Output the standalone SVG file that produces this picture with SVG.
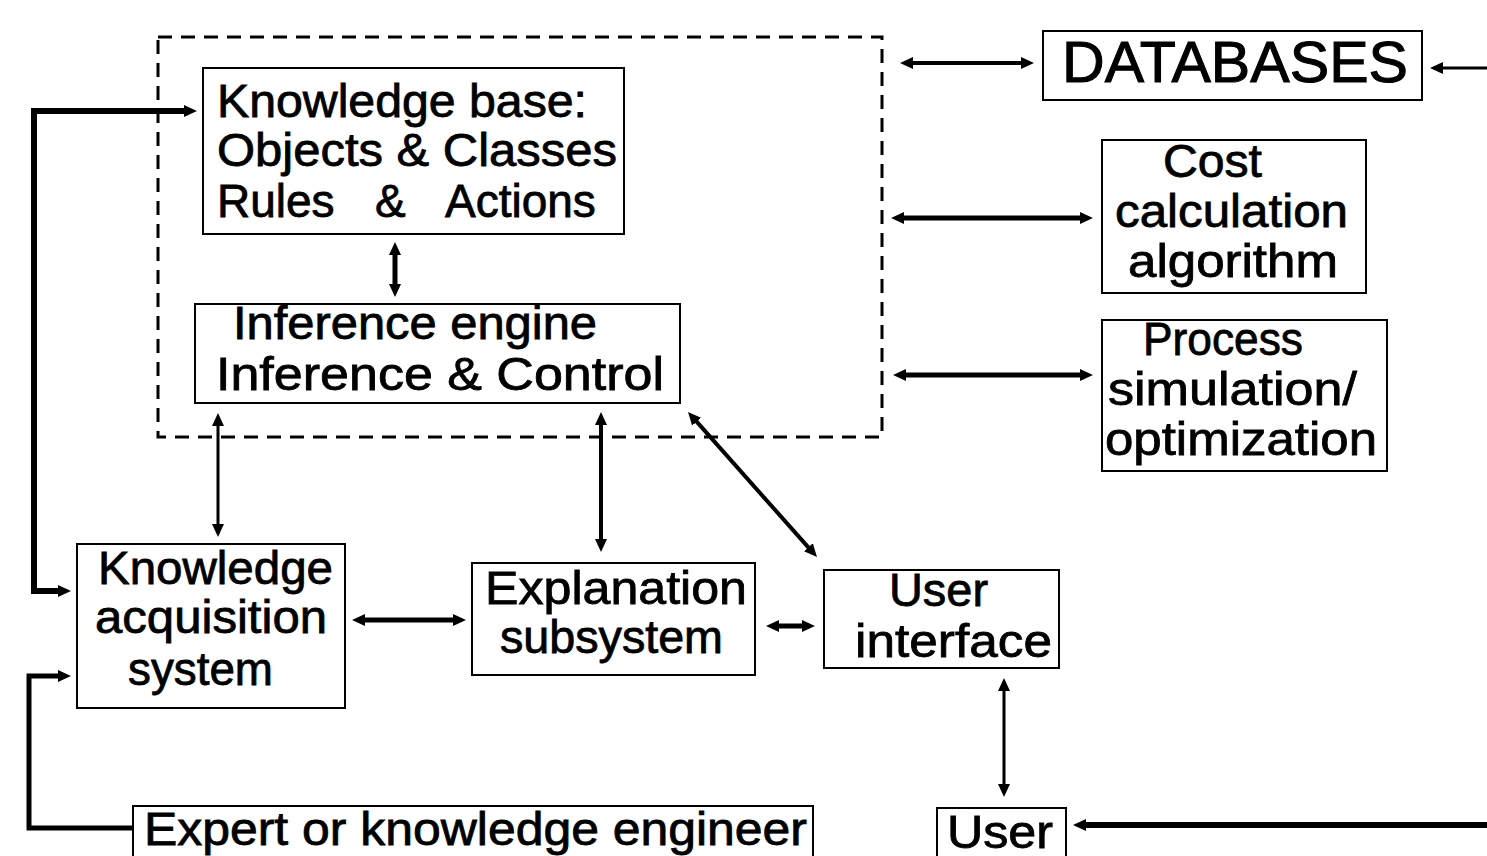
<svg xmlns="http://www.w3.org/2000/svg" width="1487" height="856" viewBox="0 0 1487 856">
  <defs>
    <!-- shared arrowhead: tip sits 9px beyond the line end -->
    <marker id="head" markerUnits="userSpaceOnUse" markerWidth="15" markerHeight="14" refX="4" refY="7" orient="auto-start-reverse">
      <path d="M0,1 L13,7 L0,13 Z" fill="#000"/>
    </marker>
    <style>
      .box { fill: none; stroke: #000; stroke-width: 2; }
      .frame { fill: none; stroke: #000; stroke-width: 3; stroke-dasharray: 14 9; }
      .lbl { font-family: "Liberation Sans", Arial, Helvetica, sans-serif; font-size: 46px; fill: #000; stroke: #000; stroke-width: 0.8; }
      .big { font-size: 57px; stroke-width: 1; }
      .c { fill: none; stroke: #000; stroke-linecap: butt; stroke-linejoin: miter; }
      .two { marker-start: url(#head); marker-end: url(#head); }
      .one { marker-end: url(#head); }
    </style>
  </defs>
  <rect width="1487" height="856" fill="#fff"/>

  <!-- expert-system boundary -->
  <rect class="frame" x="158" y="37" width="724" height="400"/>

  <g id="connectors">
    <line class="c two" x1="395" y1="251" x2="395" y2="288" stroke-width="5"/>
    <path class="c two" d="M62,591 H34 V111 H188" stroke-width="6"/>
    <path class="c one" d="M132,828 H29 V676 H62" stroke-width="5"/>
    <line class="c two" x1="218" y1="422" x2="218" y2="528" stroke-width="3"/>
    <line class="c two" x1="601" y1="421" x2="601" y2="543" stroke-width="4"/>
    <line class="c two" x1="694" y1="418.7" x2="811" y2="550.3" stroke-width="4"/>
    <line class="c two" x1="361" y1="620" x2="457" y2="620" stroke-width="5"/>
    <line class="c two" x1="775" y1="626" x2="806" y2="626" stroke-width="5"/>
    <line class="c two" x1="1004" y1="687" x2="1004" y2="788" stroke-width="3"/>
    <path class="c one" d="M1487,825 H1082" stroke-width="6"/>
    <line class="c two" x1="909" y1="63" x2="1025" y2="63" stroke-width="4"/>
    <path class="c one" d="M1487,68 H1439" stroke-width="3"/>
    <line class="c two" x1="900" y1="218" x2="1084" y2="218" stroke-width="5"/>
    <line class="c two" x1="902" y1="375" x2="1084" y2="375" stroke-width="5"/>
  </g>

  <g id="knowledge-base">
    <rect class="box" x="203" y="68" width="421" height="166"/>
    <text class="lbl" x="217" y="117" textLength="370" lengthAdjust="spacingAndGlyphs">Knowledge base:</text>
    <text class="lbl" x="217" y="166" textLength="400" lengthAdjust="spacingAndGlyphs">Objects &amp; Classes</text>
    <text class="lbl" y="217"><tspan x="217">Rules</tspan> <tspan x="375">&amp;</tspan> <tspan x="445">Actions</tspan></text>
  </g>

  <g id="inference-engine">
    <rect class="box" x="195" y="304" width="485" height="99"/>
    <text class="lbl" x="233" y="339" textLength="364" lengthAdjust="spacingAndGlyphs">Inference engine</text>
    <text class="lbl" x="216" y="390" textLength="448" lengthAdjust="spacingAndGlyphs">Inference &amp; Control</text>
  </g>

  <g id="knowledge-acquisition">
    <rect class="box" x="77" y="544" width="268" height="164"/>
    <text class="lbl" x="98" y="584" textLength="235" lengthAdjust="spacingAndGlyphs">Knowledge</text>
    <text class="lbl" x="95" y="633" textLength="232" lengthAdjust="spacingAndGlyphs">acquisition</text>
    <text class="lbl" x="128" y="685" textLength="145" lengthAdjust="spacingAndGlyphs">system</text>
  </g>

  <g id="explanation">
    <rect class="box" x="472" y="563" width="283" height="112"/>
    <text class="lbl" x="485" y="604" textLength="262" lengthAdjust="spacingAndGlyphs">Explanation</text>
    <text class="lbl" x="500" y="653" textLength="223" lengthAdjust="spacingAndGlyphs">subsystem</text>
  </g>

  <g id="user-interface">
    <rect class="box" x="824" y="570" width="235" height="98"/>
    <text class="lbl" x="889" y="606" textLength="99" lengthAdjust="spacingAndGlyphs">User</text>
    <text class="lbl" x="855" y="657" textLength="197" lengthAdjust="spacingAndGlyphs">interface</text>
  </g>

  <g id="expert">
    <rect class="box" x="133" y="806" width="680" height="60"/>
    <text class="lbl" x="144" y="845" textLength="663" lengthAdjust="spacingAndGlyphs">Expert or knowledge engineer</text>
  </g>

  <g id="user">
    <rect class="box" x="937" y="808" width="129" height="60"/>
    <text class="lbl" x="947" y="848" textLength="106" lengthAdjust="spacingAndGlyphs">User</text>
  </g>

  <g id="databases">
    <rect class="box" x="1043" y="31" width="379" height="69"/>
    <text class="lbl big" x="1062" y="82" textLength="346" lengthAdjust="spacingAndGlyphs">DATABASES</text>
  </g>

  <g id="cost-calculation">
    <rect class="box" x="1102" y="140" width="264" height="153"/>
    <text class="lbl" x="1163" y="177" textLength="99" lengthAdjust="spacingAndGlyphs">Cost</text>
    <text class="lbl" x="1115" y="227" textLength="233" lengthAdjust="spacingAndGlyphs">calculation</text>
    <text class="lbl" x="1128" y="277" textLength="210" lengthAdjust="spacingAndGlyphs">algorithm</text>
  </g>

  <g id="process-simulation">
    <rect class="box" x="1102" y="320" width="285" height="151"/>
    <text class="lbl" x="1143" y="355" textLength="160" lengthAdjust="spacingAndGlyphs">Process</text>
    <text class="lbl" x="1108" y="405" textLength="249" lengthAdjust="spacingAndGlyphs">simulation/</text>
    <text class="lbl" x="1105" y="455" textLength="272" lengthAdjust="spacingAndGlyphs">optimization</text>
  </g>
</svg>
